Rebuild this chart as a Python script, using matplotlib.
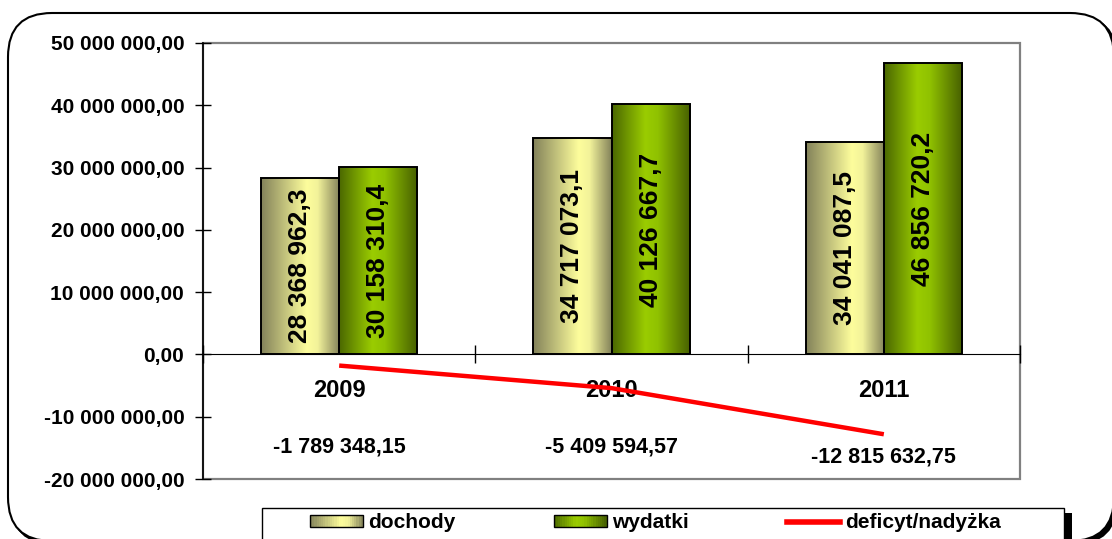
import matplotlib
matplotlib.use('Agg')
import matplotlib.pyplot as plt
import matplotlib.patches as mpatches
import matplotlib.transforms as mtransforms
from matplotlib.colors import LinearSegmentedColormap
from matplotlib.legend_handler import HandlerBase
from matplotlib.lines import Line2D
from matplotlib.ticker import FuncFormatter, MultipleLocator
import numpy as np

plt.rcParams['font.family'] = ['Liberation Sans', 'DejaVu Sans']
plt.rcParams['font.weight'] = 'bold'

# data
years = ['2009', '2010', '2011']
dochody = [28368962.3, 34717073.1, 34041087.5]
wydatki = [30158310.4, 40126667.7, 46856720.2]
deficyt = [-1789348.15, -5409594.57, -12815632.75]
series_labels = ['dochody', 'wydatki', 'deficyt/nadyżka']

doch_cmap = LinearSegmentedColormap.from_list(
    'doch', [(0, '#83825a'), (0.58, '#fdfd9c'), (0.72, '#f2f29a'), (1, '#83825a')])
wyd_cmap = LinearSegmentedColormap.from_list(
    'wyd', [(0, '#4b6800'), (0.42, '#9acc00'), (0.58, '#90c200'), (1, '#465f00')])


def pl_num(v, dec):
    s = f'{v:,.{dec}f}'
    return s.replace(',', ' ').replace('.', ',')


class GradientHandler(HandlerBase):
    """Legend key drawn as a striped horizontal gradient."""

    def __init__(self, cmap, n=24):
        super().__init__()
        self.cmap = cmap
        self.n = n

    def create_artists(self, legend, orig_handle, xdescent, ydescent,
                       width, height, fontsize, trans):
        arts = []
        for i in range(self.n):
            arts.append(mpatches.Rectangle(
                (-xdescent + width * i / self.n, -ydescent), width / self.n + 0.3, height,
                facecolor=self.cmap((i + 0.5) / self.n), edgecolor='none', transform=trans))
        arts.append(mpatches.Rectangle((-xdescent, -ydescent), width, height, fill=False,
                                       edgecolor='black', lw=1, transform=trans))
        return arts


W, H = 1112, 539
px = mtransforms.IdentityTransform()
fig = plt.figure(figsize=(W / 100, H / 100), dpi=100)
ax = fig.add_axes([203 / W, 1 - 479 / H, (1020 - 203) / W, (479 - 43) / H])

# rounded outer frame with a small drop shadow
fig.add_artist(mpatches.FancyBboxPatch((11, -5), 1106, 528,
                                       boxstyle='round,pad=0,rounding_size=44',
                                       transform=px, facecolor='black', edgecolor='black',
                                       lw=1.5, zorder=-3))
fig.add_artist(mpatches.FancyBboxPatch((8, -2), 1106, 528,
                                       boxstyle='round,pad=0,rounding_size=44',
                                       transform=px, facecolor='white', edgecolor='black',
                                       lw=1.5, zorder=-2))

x = np.arange(len(years))
bw = 0.287
b1 = ax.bar(x - bw / 2, dochody, bw, facecolor='none', edgecolor='black', lw=1.4, zorder=3)
b2 = ax.bar(x + bw / 2, wydatki, bw, facecolor='none', edgecolor='black', lw=1.4, zorder=3)

grad = np.linspace(0, 1, 200).reshape(1, -1)
for bars, cmap in ((b1, doch_cmap), (b2, wyd_cmap)):
    for r in bars:
        im = ax.imshow(grad, cmap=cmap, aspect='auto', zorder=2,
                       extent=[r.get_x(), r.get_x() + r.get_width(), 0, r.get_height()])
        im.set_clip_path(r)

for bars, vals in ((b1, dochody), (b2, wydatki)):
    ax.bar_label(bars, labels=[pl_num(v, 1) for v in vals], label_type='center',
                 rotation=90, fontsize=19, fontweight='bold', zorder=4)

ax.plot(x, deficyt, color='#ff0000', lw=3.2, zorder=5, solid_capstyle='butt')

# deficit value labels (placed below the plot line like in the original)
deficit_label_y = [-14.8e6, -14.8e6, -16.5e6]
for xi, v, ly in zip(x, deficyt, deficit_label_y):
    ax.text(xi, ly, pl_num(v, 2), ha='center', va='center', fontsize=15.5, fontweight='bold')

ax.set_xlim(-0.5, 2.5)
ax.set_ylim(-20e6, 50e6)
ax.yaxis.set_major_locator(MultipleLocator(10e6))
ax.yaxis.set_major_formatter(FuncFormatter(lambda v, p: pl_num(v, 2)))
ax.tick_params(axis='y', direction='inout', length=11, width=1, pad=8, labelsize=15)

ax.set_xticks(x)
ax.set_xticklabels(years)
ax.set_xticks([-0.5, 0.5, 1.5, 2.5], minor=True)
ax.tick_params(axis='x', which='major', length=0, pad=18, labelsize=17)
ax.tick_params(axis='x', which='minor', direction='inout', length=13, width=1)

ax.spines['bottom'].set_position(('data', 0))
ax.spines['bottom'].set_color('black')
ax.spines['left'].set_color('black')
ax.spines['left'].set_linewidth(1.2)
for s in ('top', 'right'):
    ax.spines[s].set_visible(False)
ax.add_patch(mpatches.Rectangle((0, 0), 1, 1, transform=ax.transAxes, fill=False,
                                edgecolor='#808080', lw=1.6, zorder=0.5, clip_on=False))

# legend box with its black drop shadow, then the legend entries on top
fig.add_artist(mpatches.Rectangle((272, -20), 800, 46, transform=px,
                                  facecolor='black', edgecolor='none'))
fig.add_artist(mpatches.Rectangle((262, -12), 802, 43, transform=px,
                                  facecolor='white', edgecolor='black', lw=1))

handles = [mpatches.Patch(label=series_labels[0]), mpatches.Patch(label=series_labels[1]),
           Line2D([], [], color='#ff0000', lw=4, label=series_labels[2])]
leg = fig.legend(handles=handles, loc='center left', ncol=3, frameon=False,
                 bbox_to_anchor=(310 / W, 1 - 523 / H),
                 handler_map={handles[0]: GradientHandler(doch_cmap),
                              handles[1]: GradientHandler(wyd_cmap)},
                 prop={'size': 15, 'weight': 'bold'}, handlelength=2.55, handleheight=0.55,
                 handletextpad=0.25, columnspacing=4.7, borderpad=0, borderaxespad=0)

fig.savefig('out.png', dpi=100)
